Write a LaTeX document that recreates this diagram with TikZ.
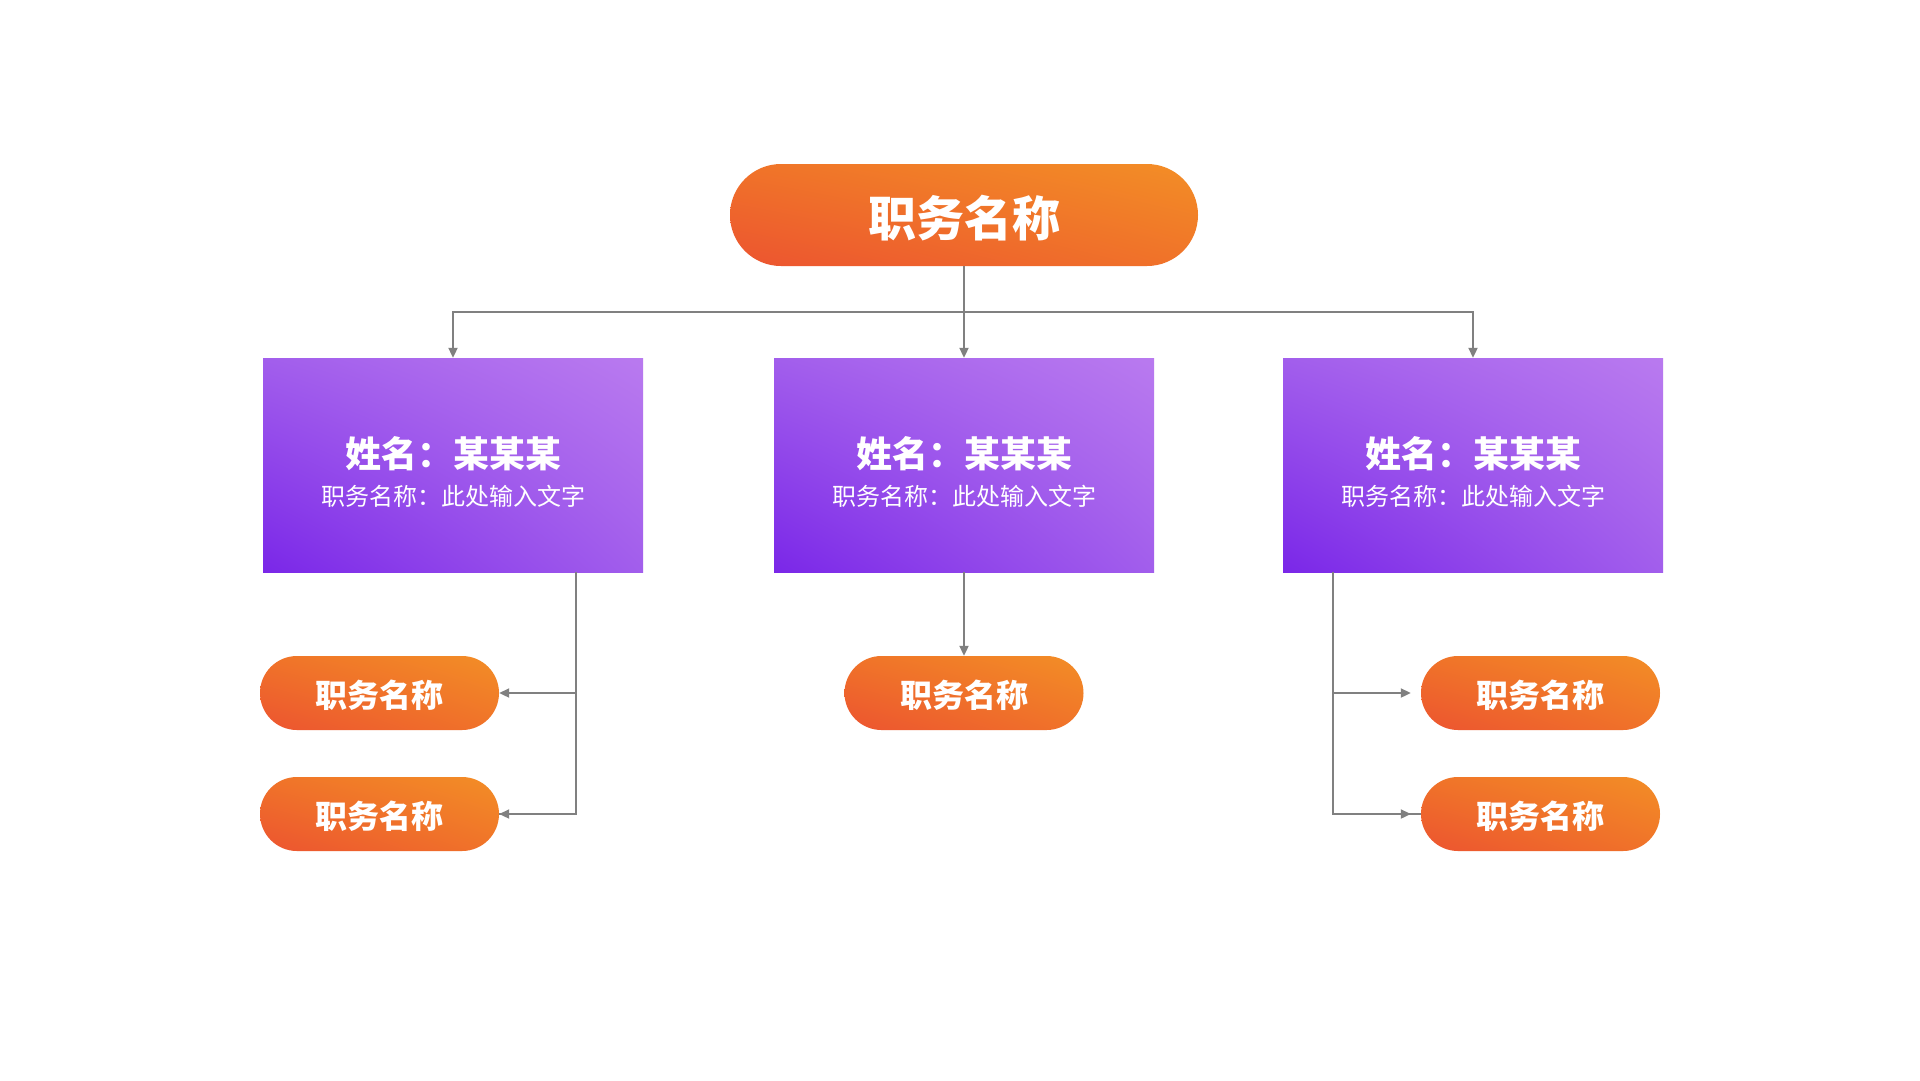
\documentclass[tikz,border=0pt]{standalone}
\usepackage{fontspec}
\newfontfamily\cjk{Noto Sans CJK SC}
\usetikzlibrary{shapes.misc,arrows.meta,shadings}
\definecolor{orTR}{HTML}{F38E26}
\definecolor{orBL}{HTML}{EC5430}
\definecolor{orMid}{HTML}{F07329}
\definecolor{puTR}{HTML}{B97AEF}
\definecolor{puBL}{HTML}{7A27E8}
\definecolor{puMid}{HTML}{A25EEC}
\definecolor{lineg}{HTML}{808080}
\tikzset{
  pillbox/.style={rounded rectangle, inner sep=0pt,
    upper right=orTR, lower left=orBL, upper left=orMid, lower right=orMid,
    text=white, font=\cjk\bfseries},
  personbox/.style={rectangle, inner sep=0pt, minimum width=380pt, minimum height=214pt,
    upper right=puTR, lower left=puBL, upper left=puMid, lower right=puMid},
  conn/.style={draw=lineg, line width=2pt},
  arr/.style={conn, -{Triangle[length=10pt,width=9pt]}},
  nametext/.style={text=white, font=\cjk\bfseries\fontsize{36}{40}\selectfont, inner sep=0pt},
  roletext/.style={text=white, font=\cjk\fontsize{24}{28}\selectfont, inner sep=0pt}
}
\newcommand{\lowertxt}[2]{\raisebox{-#1}[\height][\depth]{#2}}
\begin{document}
\begin{tikzpicture}[x=1pt,y=-1pt]
\useasboundingbox[fill=white] (0,0) rectangle (1920,1080);
% top
\node[pillbox, minimum width=468pt, minimum height=102pt, font=\cjk\bfseries\fontsize{48}{52}\selectfont] (top) at (964,215) {\lowertxt{3pt}{职务名称}};
% person boxes
\node[personbox] (b1) at (453,465) {};
\node[personbox] (b2) at (964,465) {};
\node[personbox] (b3) at (1473,465) {};
\foreach \b in {b1,b2,b3}{
  \node[nametext] (\b n) at ([yshift=11pt]\b.center) {姓名：某某某};
  \node[roletext] (\b r) at ([yshift=-31pt]\b.center) {职务名称：此处输入文字};
}
% small pills
\tikzset{small/.style={pillbox, minimum width=239pt, minimum height=74pt, font=\cjk\bfseries\fontsize{32}{36}\selectfont}}
\node[small] (p1) at (379.5,693) {\lowertxt{2.5pt}{职务名称}};
\node[small] (p2) at (379.5,814) {\lowertxt{2.5pt}{职务名称}};
\node[small] (p3) at (964,693) {\lowertxt{2.5pt}{职务名称}};
\node[small] (p4) at (1540.5,693) {\lowertxt{2.5pt}{职务名称}};
\node[small] (p5) at (1540.5,814) {\lowertxt{2.5pt}{职务名称}};
% connectors
\coordinate (j) at (964,312);
\draw[conn] (top.south) -- (j);
\draw[arr] (j) -| (b1.north);
\draw[arr] (j) -- (b2.north);
\draw[arr] (j) -| (b3.north);
\coordinate (lj) at ([xshift=123pt]b1.south);
\coordinate (rj) at ([xshift=-140pt]b3.south);
\draw[conn] (lj) |- (p2.east);
\draw[arr] (lj) |- (p1.east);
\draw[arr] (lj) |- (p2.east);
\draw[arr] (b2.south) -- (p3.north);
\draw[conn] (rj) |- (p5.west);
\draw[arr, shorten >=10pt] (rj) |- (p4.west);
\draw[arr, shorten >=10pt] (rj) |- (p5.west);
\end{tikzpicture}
\end{document}
